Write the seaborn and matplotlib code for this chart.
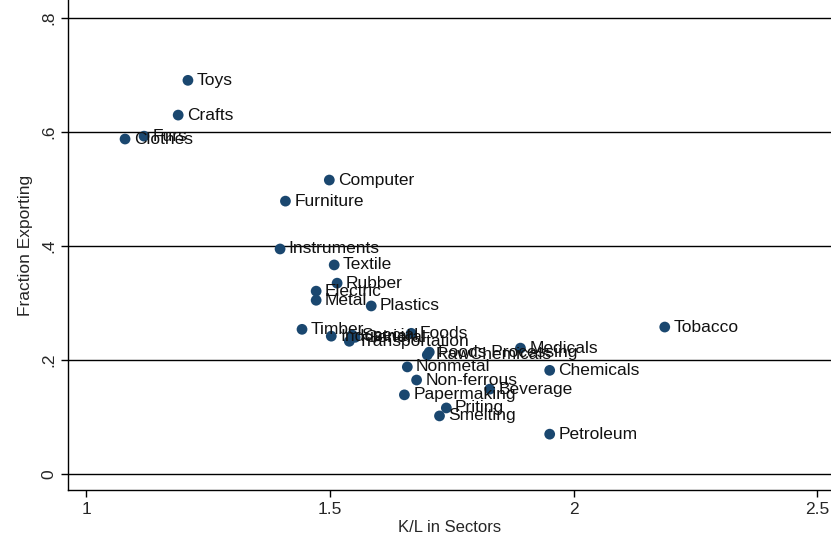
import matplotlib
matplotlib.use("Agg")
import matplotlib.pyplot as plt
import seaborn as sns
import pandas as pd

sectors = ["Toys","Crafts","Furs","Clothes","Computer","Furniture","Instruments","Textile",
           "Rubber","Electric","Metal","Plastics","Timber","Industrial","Special","General",
           "Transportation","Foods","Foods Processing","RawChemicals","Medicals","Tobacco",
           "Chemicals","Nonmetal","Non-ferrous","Beverage","Papermaking","Priting","Smelting","Petroleum"]
kl = [1.209,1.189,1.119,1.080,1.499,1.409,1.398,1.509,1.515,1.472,1.472,1.585,1.443,1.503,
      1.546,1.552,1.540,1.667,1.704,1.700,1.891,2.187,1.951,1.659,1.678,1.828,1.653,1.739,1.725,1.951]
frac = [0.691,0.630,0.593,0.588,0.516,0.479,0.395,0.367,0.335,0.321,0.305,0.295,0.254,0.242,
        0.244,0.240,0.233,0.247,0.214,0.209,0.221,0.258,0.182,0.188,0.165,0.149,0.139,0.116,0.102,0.070]
df = pd.DataFrame({"kl": kl, "frac": frac, "name": sectors})

sns.set_style("white")
plt.rcParams['font.family'] = ['Liberation Sans', 'DejaVu Sans']
fig = plt.figure(figsize=(8.31, 5.44), dpi=100)
ax = fig.add_axes([68/831, 54/544, 763/831, 490/544])
sns.scatterplot(data=df, x="kl", y="frac", color="#1a476f", s=60, edgecolor="none", ax=ax, zorder=3)
for x, y, n in zip(kl, frac, sectors):
    ax.text(x + 0.018, y, n, fontsize=12.5, va="center", ha="left", color="#111111", zorder=4)
ax.set_xlim(0.963, 2.528)
ax.set_ylim(-0.028, 0.832)
ax.set_xticks([1, 1.5, 2, 2.5])
ax.set_xticklabels(["1", "1.5", "2", "2.5"])
ax.set_yticks([0, 0.2, 0.4, 0.6, 0.8])
ax.set_yticklabels(["0", ".2", ".4", ".6", ".8"], rotation=90, va="center")
for yv in [0, 0.2, 0.4, 0.6, 0.8]:
    ax.axhline(yv, color="black", lw=1, zorder=1)
for s in ["top", "right"]:
    ax.spines[s].set_visible(False)
for s in ["left", "bottom"]:
    ax.spines[s].set_color("black")
    ax.spines[s].set_linewidth(1)
ax.tick_params(axis="both", length=5, width=1, color="black", labelsize=12.5, direction="out", bottom=True, left=True)
ax.set_xlabel("K/L in Sectors", fontsize=12, labelpad=2)
ax.set_ylabel("Fraction Exporting", fontsize=12.5, labelpad=6)
fig.savefig("out.png", dpi=100, facecolor="white")
